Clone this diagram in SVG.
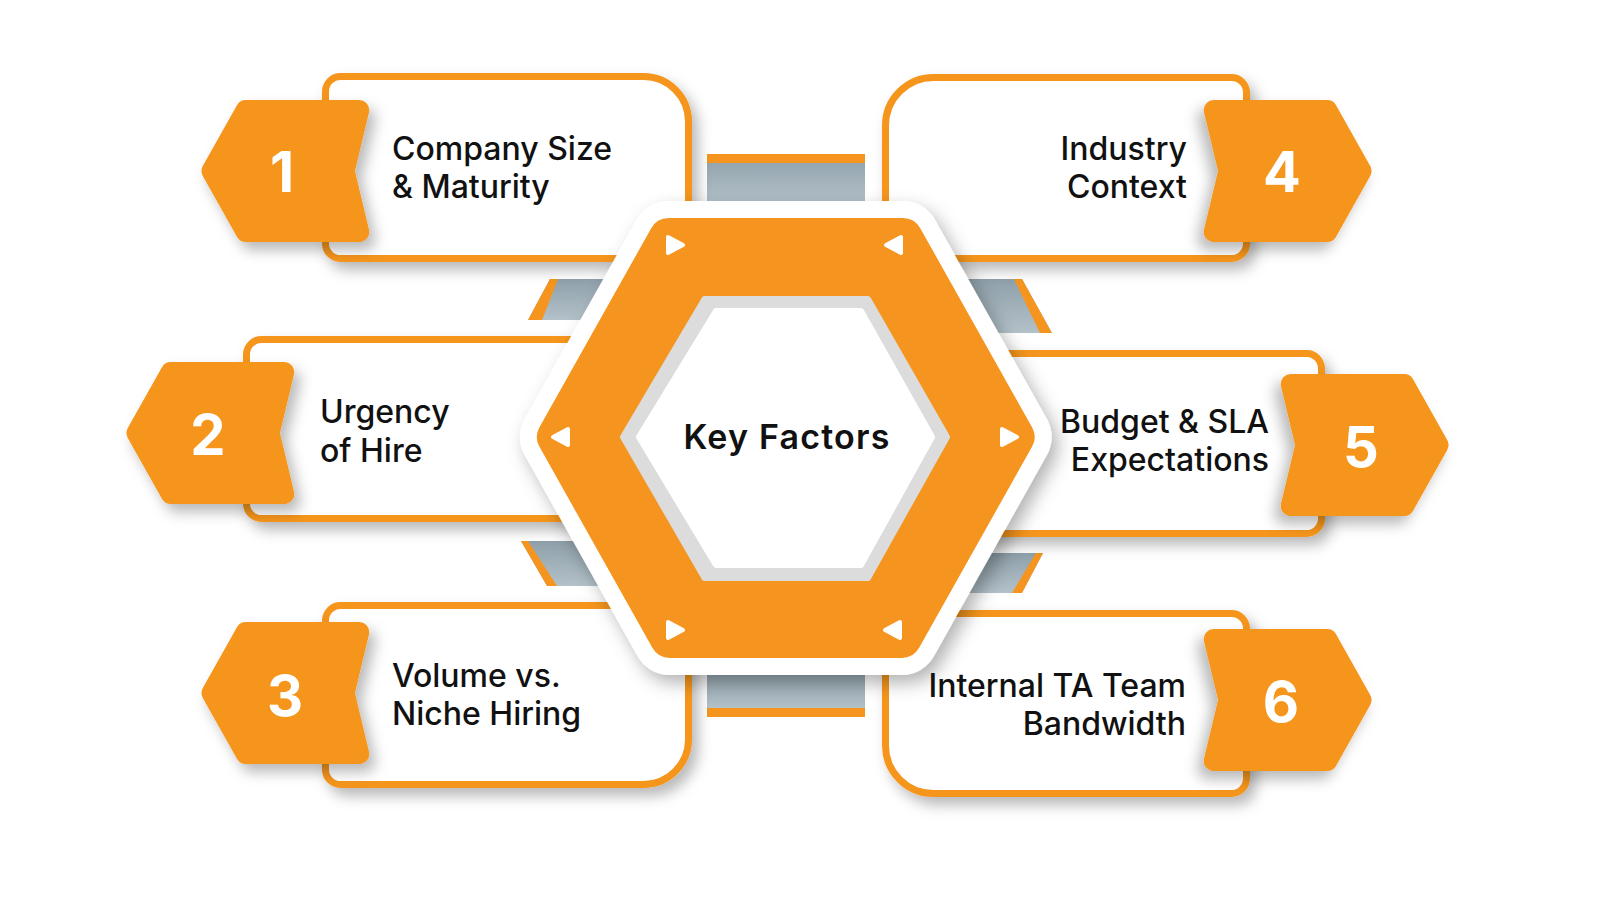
<svg xmlns="http://www.w3.org/2000/svg" width="1600" height="900" viewBox="0 0 1600 900">
  <style>
    .card { fill: #ffffff; stroke: #F5951F; stroke-width: 7; }
    .badge { fill: #F5951F; stroke: #F5951F; stroke-width: 20; stroke-linejoin: round; }
    .num { font-family: Inter, "Liberation Sans", sans-serif; font-weight: 700; font-size: 56px; fill: #ffffff; text-anchor: middle; }
    .lbl { font-family: Inter, "Liberation Sans", sans-serif; font-weight: 500; font-size: 32px; fill: #111111; }
    .end { text-anchor: end; }
    .tri { fill: #ffffff; stroke: #ffffff; stroke-width: 4; stroke-linejoin: round; }
    .bar { fill: url(#grayGrad); }
    .or { fill: #F5951F; }
  </style>
  <defs>
    <filter id="sh" x="-20%" y="-20%" width="150%" height="160%">
      <feDropShadow dx="6" dy="8" stdDeviation="7" flood-color="#000000" flood-opacity="0.28"/>
    </filter>
    <filter id="shHex" x="-20%" y="-20%" width="150%" height="150%">
      <feDropShadow dx="6" dy="8" stdDeviation="9" flood-color="#000000" flood-opacity="0.3"/>
    </filter>
    <linearGradient id="grayGrad" x1="0" y1="0" x2="0" y2="1">
      <stop offset="0" stop-color="#8fa0aa"/>
      <stop offset="1" stop-color="#b3c1c9"/>
    </linearGradient>
    <polygon id="badgeL" points="11.5,0 45.8,-61 159.3,-61 144.7,0 159.3,61 45.8,61"/>
    <polygon id="triR" points="-7,-8 8,0 -7,8"/>
  </defs>

  <rect width="1600" height="900" fill="#ffffff"/>

  <g id="connectors">
    <rect class="bar" x="707" y="154" width="158" height="50"/>
    <rect class="or" x="707" y="154" width="158" height="9"/>
    <rect class="bar" x="707" y="665" width="158" height="44"/>
    <rect class="or" x="707" y="708" width="158" height="9"/>
    <polygon class="bar" points="550,279 640,279 618,320 528,320"/>
    <polygon class="or" points="550,279 558,279 542,320 528,320"/>
    <polygon class="bar" points="940,279 1022,279 1052,333 970,333"/>
    <polygon class="or" points="1014,279 1022,279 1052,333 1040,333"/>
    <polygon class="bar" points="521,541 600,541 626,586 547,586"/>
    <polygon class="or" points="521,541 528,541 557,586 547,586"/>
    <polygon class="bar" points="960,553 1043,553 1022,593 940,593"/>
    <polygon class="or" points="1036,553 1043,553 1022,593 1012,593"/>
  </g>

  <g id="node1">
    <path class="card" filter="url(#sh)" d="M340.5,76.5 H643.5 A45,45 0 0 1 688.5,121.5 V213.5 A45,45 0 0 1 643.5,258.5 H340.5 A15,15 0 0 1 325.5,243.5 V91.5 A15,15 0 0 1 340.5,76.5 Z"/>
    <use href="#badgeL" class="badge" filter="url(#sh)" transform="translate(200,171)"/>
    <text class="num" x="282" y="192">1</text>
    <text class="lbl" x="392" y="160">Company Size</text>
    <text class="lbl" x="392" y="198">&amp; Maturity</text>
  </g>

  <g id="node2">
    <path class="card" filter="url(#sh)" d="M261.5,339.5 H641.5 A15,15 0 0 1 656.5,354.5 V503.5 A15,15 0 0 1 641.5,518.5 H261.5 A15,15 0 0 1 246.5,503.5 V354.5 A15,15 0 0 1 261.5,339.5 Z"/>
    <use href="#badgeL" class="badge" filter="url(#sh)" transform="translate(125,433)"/>
    <text class="num" x="208" y="455">2</text>
    <text class="lbl" x="320" y="423">Urgency</text>
    <text class="lbl" x="320" y="462">of Hire</text>
  </g>

  <g id="node3">
    <path class="card" filter="url(#sh)" d="M340.5,605.5 H673.5 A15,15 0 0 1 688.5,620.5 V739.5 A45,45 0 0 1 643.5,784.5 H340.5 A15,15 0 0 1 325.5,769.5 V620.5 A15,15 0 0 1 340.5,605.5 Z"/>
    <use href="#badgeL" class="badge" filter="url(#sh)" transform="translate(200,693)"/>
    <text class="num" x="285" y="716">3</text>
    <text class="lbl" x="392" y="687">Volume vs.</text>
    <text class="lbl" x="392" y="725">Niche Hiring</text>
  </g>

  <g id="node4">
    <path class="card" filter="url(#sh)" d="M933.5,77.5 H1231.5 A15,15 0 0 1 1246.5,92.5 V243.5 A15,15 0 0 1 1231.5,258.5 H900.5 A15,15 0 0 1 885.5,243.5 V125.5 A48,48 0 0 1 933.5,77.5 Z"/>
    <use href="#badgeL" class="badge" filter="url(#sh)" transform="translate(1373,171) scale(-1,1)"/>
    <text class="num" x="1282" y="192">4</text>
    <text class="lbl end" x="1187" y="160">Industry</text>
    <text class="lbl end" x="1187" y="198">Context</text>
  </g>

  <g id="node5">
    <path class="card" filter="url(#sh)" d="M898.5,353.5 H1306.5 A15,15 0 0 1 1321.5,368.5 V518.5 A15,15 0 0 1 1306.5,533.5 H898.5 A15,15 0 0 1 883.5,518.5 V368.5 A15,15 0 0 1 898.5,353.5 Z"/>
    <use href="#badgeL" class="badge" filter="url(#sh)" transform="translate(1450,445) scale(-1,1)"/>
    <text class="num" x="1361" y="467">5</text>
    <text class="lbl end" x="1269" y="433">Budget &amp; SLA</text>
    <text class="lbl end" x="1269" y="471">Expectations</text>
  </g>

  <g id="node6">
    <path class="card" filter="url(#sh)" d="M900.5,613.5 H1231.5 A15,15 0 0 1 1246.5,628.5 V778.5 A15,15 0 0 1 1231.5,793.5 H933.5 A48,48 0 0 1 885.5,745.5 V628.5 A15,15 0 0 1 900.5,613.5 Z"/>
    <use href="#badgeL" class="badge" filter="url(#sh)" transform="translate(1373,700) scale(-1,1)"/>
    <text class="num" x="1281" y="722">6</text>
    <text class="lbl end" x="1186" y="697">Internal TA Team</text>
    <text class="lbl end" x="1186" y="735">Bandwidth</text>
  </g>

  <g id="center">
    <polygon filter="url(#shHex)" fill="#ffffff" stroke="#ffffff" stroke-width="74" stroke-linejoin="round" points="556.9,437 668.7,238 902.8,238 1014.6,437 901.7,638 669.8,638"/>
    <polygon fill="#F5951F" stroke="#F5951F" stroke-width="40" stroke-linejoin="round" points="556.9,437 668.7,238 902.8,238 1014.6,437 901.7,638 669.8,638"/>
    <polygon fill="#dcdcdc" stroke="#dcdcdc" stroke-width="6" stroke-linejoin="round" points="623,437 704.5,299 868,299 947,437 868,578 704.5,578"/>
    <polygon fill="#ffffff" stroke="#ffffff" stroke-width="6" stroke-linejoin="round" points="639,437 716,311 861,311 932,437 861,565 716,565"/>
    <use href="#triR" class="tri" transform="translate(675,245)"/>
    <use href="#triR" class="tri" transform="translate(894,245) scale(-1,1)"/>
    <use href="#triR" class="tri" transform="translate(561,437) scale(-1,1)"/>
    <use href="#triR" class="tri" transform="translate(1009,437)"/>
    <use href="#triR" class="tri" transform="translate(675,630)"/>
    <use href="#triR" class="tri" transform="translate(893,630) scale(-1,1)"/>
    <text x="787" y="449" font-family="Inter, 'Liberation Sans', sans-serif" font-weight="600" font-size="34" letter-spacing="1.2" fill="#111111" text-anchor="middle">Key Factors</text>
  </g>
</svg>
